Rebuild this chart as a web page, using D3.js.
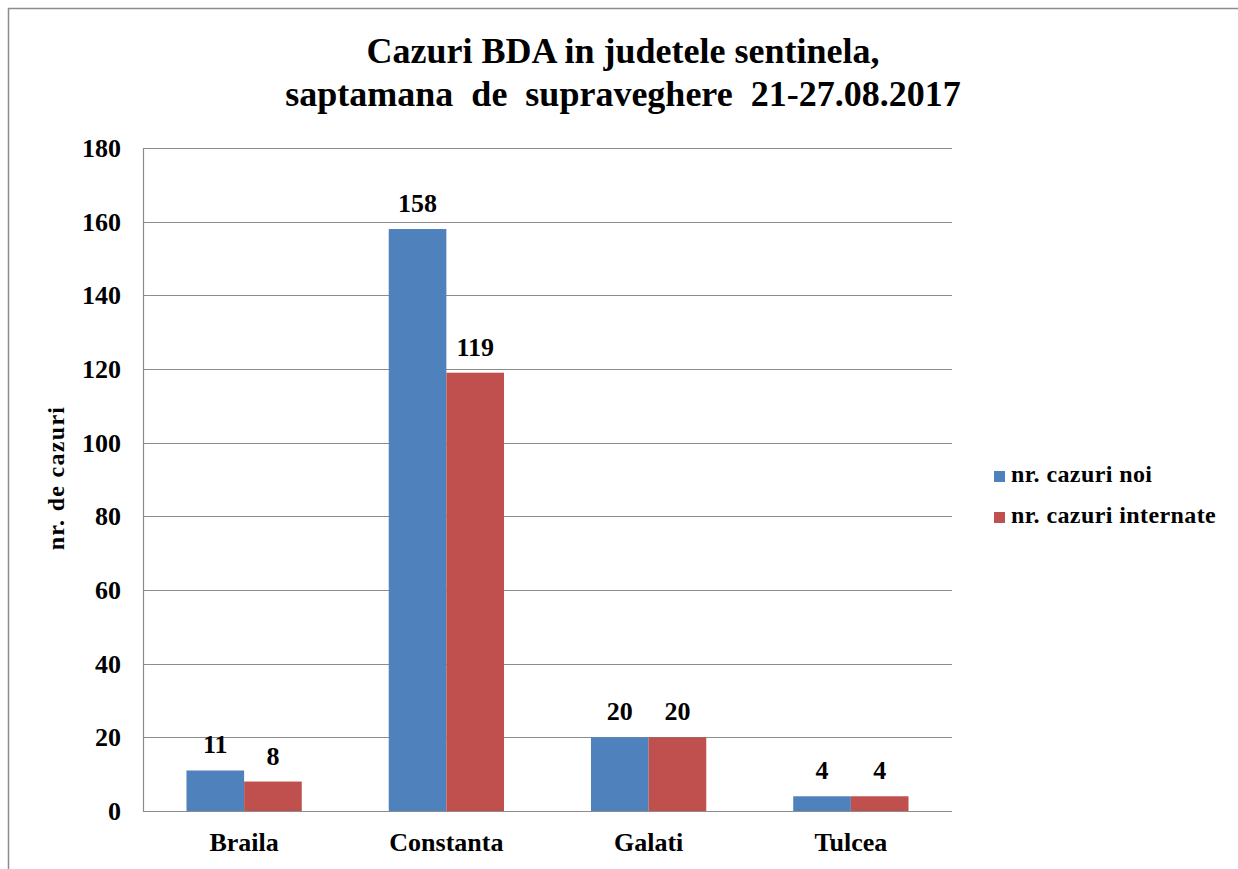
<!DOCTYPE html>
<html><head><meta charset="utf-8">
<script src="https://cdn.jsdelivr.net/npm/d3@7"></script>
<style>body{margin:0;background:#fff}</style>
</head><body><svg id="c" width="1238" height="869"></svg>
<script>
const categories = ["Braila","Constanta","Galati","Tulcea"];
const seriesNames = ["nr. cazuri noi","nr. cazuri internate"];
const noi = [11,158,20,4];
const internate = [8,119,20,4];
const yTicks = [0,20,40,60,80,100,120,140,160,180];
const colors = ["#4F81BD","#C0504D"];
const titleLines = ["Cazuri BDA in judetele sentinela,","saptamana de supraveghere 21-27.08.2017"];

const FONT = '"Liberation Serif","Times New Roman","DejaVu Serif",serif';
const svg = d3.select("#c");
function txt(sel,size){ return sel.style("font-family",FONT).style("font-weight","bold").style("font-size",size+"px").attr("fill","#000"); }

svg.append("rect").attr("x",8.5).attr("y",8.5).attr("width",1240).attr("height",880).attr("fill","none").attr("stroke","#8c8c8c").attr("stroke-width",1.5);

const L=143,R=952,T=148,B=811;
const x = d3.scaleBand().domain(categories).range([L,R]).paddingInner(0.43).paddingOuter(0.215);
const xs = d3.scaleBand().domain([0,1]).range([0,x.bandwidth()]);
const y = d3.scaleLinear().domain([0,180]).range([B,T]);

svg.append("g").selectAll("line").data(yTicks).join("line")
  .attr("x1",L).attr("x2",R).attr("y1",d=>Math.round(y(d))+0.5).attr("y2",d=>Math.round(y(d))+0.5)
  .attr("stroke","#8c8c8c").attr("stroke-width",1.2);
svg.append("line").attr("x1",L+0.5).attr("x2",L+0.5).attr("y1",T).attr("y2",B+0.5).attr("stroke","#8c8c8c").attr("stroke-width",1.2);

const yAxis = svg.append("g").attr("transform",`translate(${L},0)`)
  .call(d3.axisLeft(y).tickValues(yTicks).tickSize(0).tickPadding(22));
yAxis.select(".domain").remove();
txt(yAxis.selectAll("text"),26).attr("dy","0.33em");

const xAxis = svg.append("g").attr("transform",`translate(0,${B})`)
  .call(d3.axisBottom(x).tickSize(0).tickPadding(22));
xAxis.select(".domain").remove();
txt(xAxis.selectAll("text"),26);

const series=[noi,internate];
series.forEach((vals,si)=>{
  const g=svg.append("g");
  g.selectAll("rect").data(vals).join("rect")
    .attr("x",(d,i)=>x(categories[i])+xs(si))
    .attr("width",xs.bandwidth())
    .attr("y",d=>y(d)).attr("height",d=>B-y(d))
    .attr("fill",colors[si]);
  txt(g.selectAll("text").data(vals).join("text")
    .attr("x",(d,i)=>x(categories[i])+xs(si)+xs.bandwidth()/2)
    .attr("y",d=>y(d)-17).attr("text-anchor","middle").text(d=>d),26);
});

txt(svg.append("g").selectAll("text").data(titleLines).join("text")
  .attr("x",623).attr("y",(d,i)=>63+i*43).attr("text-anchor","middle").text(d=>d),36)
  .style("word-spacing",(d,i)=>i?"9px":"0px");

txt(svg.append("text").attr("transform","translate(64,478) rotate(-90)").attr("text-anchor","middle").text("nr. de cazuri"),24).style("letter-spacing","1.3px");

const lg=svg.append("g").selectAll("g").data(seriesNames).join("g").attr("transform",(d,i)=>`translate(994,${471+i*41})`);
lg.append("rect").attr("width",11).attr("height",11).attr("fill",(d,i)=>colors[i]);
txt(lg.append("text").attr("x",17).attr("y",11).text(d=>d),24).style("letter-spacing","0.4px");
</script></body></html>
